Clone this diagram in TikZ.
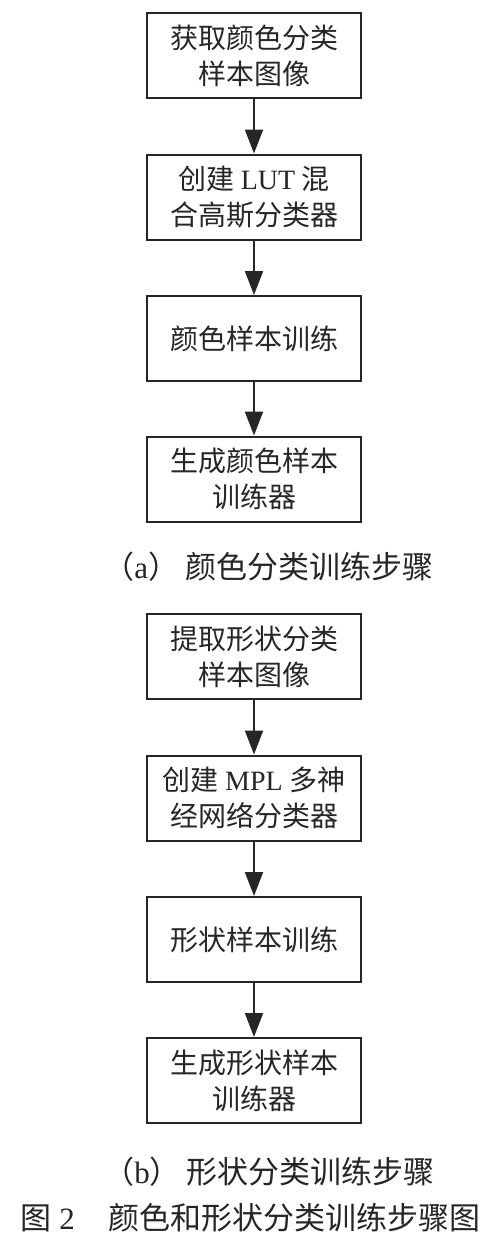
\documentclass[tikz,border=0pt]{standalone}
\usepackage{fontspec}
\setmainfont{Liberation Serif}
\newfontfamily\cjk{Noto Sans CJK SC}
\usetikzlibrary{arrows.meta}

\begin{document}
\begin{tikzpicture}[
    x=0.5pt,
    y=0.5pt,
    every node/.style={text=black!85},
    stepbox/.style={draw=black!85, line width=1pt, minimum width=107pt,
      minimum height=42.5pt, inner sep=0pt, align=center,
      font=\cjk\fontsize{14}{18}\selectfont},
    flow/.style={-{Triangle[width=9pt,length=12pt]}, draw=black!85, line width=1pt},
    subcap/.style={anchor=west, inner sep=0pt, font=\cjk\fontsize{15.5}{18}\selectfont},
    figcap/.style={anchor=west, inner sep=0pt, font=\cjk\fontsize{15.5}{18}\selectfont}
  ]
    \useasboundingbox (0,0) rectangle (500,-1242);

    % (a) colour training
    \node[stepbox] (a1) at (254,-55.5) {获取颜色分类\\样本图像};
    \node[stepbox] (a2) at (254,-197) {创建 {\rmfamily LUT} 混\\合高斯分类器};
    \node[stepbox] (a3) at (254,-338.5) {颜色样本训练};
    \node[stepbox] (a4) at (254,-479) {生成颜色样本\\训练器};
    \node[subcap] (capa) at (103,-567) {（{\rmfamily a}）\hspace{3pt}颜色分类训练步骤};

    % (b) shape training
    \node[stepbox] (b1) at (254,-656.5) {提取形状分类\\样本图像};
    \node[stepbox] (b2) at (254,-798) {创建 {\rmfamily MPL} 多神\\经网络分类器};
    \node[stepbox] (b3) at (254,-939.5) {形状样本训练};
    \node[stepbox] (b4) at (254,-1080.5) {生成形状样本\\训练器};
    \node[subcap] (capb) at (103,-1172) {（{\rmfamily b}）\hspace{3pt}形状分类训练步骤};

    \foreach \s/\t in {a1/a2,a2/a3,a3/a4,b1/b2,b2/b3,b3/b4}
      \draw[flow] (\s) -- (\t);

    \node[figcap] (fig) at (20,-1218)
      {图\hspace{4pt}{\rmfamily 2}\hspace{17pt}颜色和形状分类训练步骤图};
  \end{tikzpicture}
\end{document}
